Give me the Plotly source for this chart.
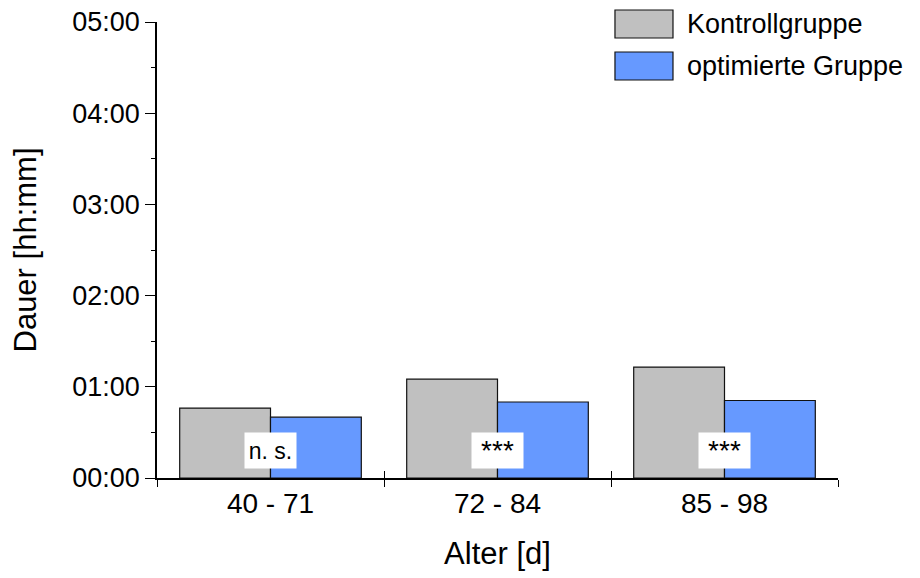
import plotly.graph_objects as go

categories = ["40 - 71", "72 - 84", "85 - 98"]
kontroll_min = [46, 65, 73]
optimiert_min = [40, 50, 51]
signif_labels = ["n. s.", "***", "***"]
ytick_vals = [0, 60, 120, 180, 240, 300]
ytick_text = ["00:00", "01:00", "02:00", "03:00", "04:00", "05:00"]
series_names = ["Kontrollgruppe", "optimierte Gruppe"]
series_colors = ["#C0C0C0", "#6699FF"]

FONT = "Liberation Sans, Arial, sans-serif"

fig = go.Figure()
fig.add_trace(go.Bar(x=categories, y=kontroll_min, name=series_names[0],
                     marker=dict(color=series_colors[0], line=dict(color="#111", width=1.2)),
                     showlegend=False))
fig.add_trace(go.Bar(x=categories, y=optimiert_min, name=series_names[1],
                     marker=dict(color=series_colors[1], line=dict(color="#111", width=1.2)),
                     showlegend=False))
# invisible trace to render crossing (inside) ticks on the x axis
fig.add_trace(go.Scatter(x=categories, y=[None] * len(categories), xaxis="x2",
                         showlegend=False, hoverinfo="skip"))

for cat, lab in zip(categories, signif_labels):
    fsize = 28 if lab.startswith("*") else 23
    fig.add_annotation(x=cat, y=0, xref="x", yref="y", text=lab, showarrow=False,
                       yanchor="bottom", yshift=9, bgcolor="white", width=43, height=27,
                       borderpad=4, font=dict(family=FONT, size=fsize, color="black"))

# custom legend
for i, (nm, col) in enumerate(zip(series_names, series_colors)):
    y0 = 1.0263 - i * 0.0921
    fig.add_shape(type="rect", xref="x domain", yref="y domain",
                  x0=0.6725, x1=0.7577, y0=y0 - 0.0614, y1=y0,
                  fillcolor=col, line=dict(color="#111", width=1.2))
    fig.add_annotation(xref="x domain", yref="y domain", x=0.776, y=y0 - 0.0307,
                       text=nm, showarrow=False, xanchor="left", yanchor="middle",
                       font=dict(family=FONT, size=27, color="black"))

fig.update_layout(
    width=920, height=578,
    margin=dict(l=149, r=90, t=14, b=108),
    paper_bgcolor="white", plot_bgcolor="white",
    barmode="group", bargap=0.2, bargroupgap=0,
    font=dict(family=FONT, color="black"),
    xaxis=dict(type="category", showline=True, linecolor="black", linewidth=1.5,
               ticks="outside", tickson="boundaries", ticklen=7, tickcolor="black",
               tickfont=dict(size=28), showgrid=False, zeroline=False,
               automargin=False, ticklabeloverflow="allow",
               title=dict(text="Alter [d]", font=dict(size=31), standoff=24)),
    xaxis2=dict(type="category", overlaying="x", matches="x", anchor="y",
                ticks="inside", tickson="boundaries", ticklen=7, tickcolor="black",
                showticklabels=False, showline=False, showgrid=False, zeroline=False,
                automargin=False),
    yaxis=dict(range=[0, 300], tickvals=ytick_vals, ticktext=ytick_text,
               showline=True, linecolor="black", linewidth=1.5,
               ticks="outside", ticklen=10, tickcolor="black",
               tickfont=dict(size=27), ticklabeloverflow="allow",
               minor=dict(dtick=30, ticks="outside", ticklen=4, tickcolor="black"),
               showgrid=False, zeroline=False, automargin=False,
               title=dict(text="Dauer [hh:mm]", font=dict(size=31), standoff=30)),
)

fig.write_html("out.html")
